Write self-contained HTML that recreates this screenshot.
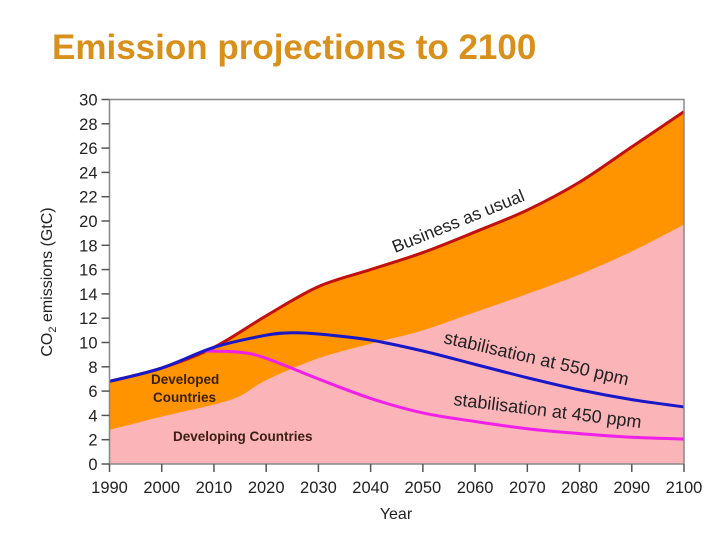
<!DOCTYPE html>
<html><head><meta charset="utf-8"><style>
body{margin:0;background:#fff;width:720px;height:540px;overflow:hidden;font-family:"Liberation Sans",sans-serif}
</style></head><body>
<svg id="c" width="720" height="540" font-family="Liberation Sans, sans-serif">
<text x="52" y="59" font-size="35" font-weight="bold" fill="#d8901c">Emission projections to 2100</text>
<g id="areas"></g><g id="lines"></g><g id="axes"></g>
<text transform="translate(52,282) rotate(-90)" text-anchor="middle" font-size="16" fill="#222">CO<tspan font-size="11" dy="4">2</tspan><tspan dy="-4"> emissions (GtC)</tspan></text>
<text x="396" y="519" text-anchor="middle" font-size="16" fill="#222">Year</text>
<text x="151" y="384" font-size="13.5" font-weight="bold" fill="#3a2010">Developed</text>
<text x="153" y="402" font-size="13.5" font-weight="bold" fill="#3a2010">Countries</text>
<text x="173" y="441" font-size="13.5" font-weight="bold" fill="#3a2010">Developing Countries</text>
<text transform="translate(395,253) rotate(-22)" font-size="17.5" fill="#222">Business as usual</text>
<text transform="translate(443,343) rotate(13)" font-size="18" fill="#222">stabilisation at 550 ppm</text>
<text transform="translate(453,405) rotate(7)" font-size="18" fill="#222">stabilisation at 450 ppm</text>
</svg>
<script>
const bauYears=[1990,2000,2010,2020,2030,2040,2050,2060,2070,2080,2090,2100];
const bauValues=[6.8,7.9,9.6,12.2,14.6,16.0,17.4,19.1,20.9,23.2,26.1,29.0];
const devYears=[1990,2000,2010,2015,2020,2030,2040,2050,2060,2070,2080,2090,2100];
const devValues=[2.8,3.9,4.9,5.6,6.9,8.7,9.9,11.0,12.5,14.0,15.6,17.5,19.7];
const s550Years=[1990,2000,2010,2020,2025,2030,2040,2050,2060,2070,2080,2090,2100];
const s550Values=[6.8,7.9,9.6,10.6,10.8,10.7,10.2,9.3,8.2,7.1,6.1,5.3,4.7];
const s450Years=[2008,2015,2020,2030,2040,2050,2060,2070,2080,2090,2100];
const s450Values=[9.3,9.2,8.7,7.0,5.4,4.2,3.5,2.9,2.5,2.2,2.05];
const yTicks=[0,2,4,6,8,10,12,14,16,18,20,22,24,26,28,30];
const xTicks=[1990,2000,2010,2020,2030,2040,2050,2060,2070,2080,2090,2100];
const X=v=>109.5+(v-1990)*(684-109.5)/110;
const Y=v=>464-v*(464-99.5)/30;
const NS='http://www.w3.org/2000/svg';
function mk(t,a,p){const e=document.createElementNS(NS,t);for(const k in a)e.setAttribute(k,a[k]);p.appendChild(e);return e;}
function curve(xs,ys){const p=xs.map((x,i)=>[X(x),Y(ys[i])]);let d='M'+p[0][0]+','+p[0][1];
for(let i=0;i<p.length-1;i++){const p0=p[i-1]||p[i],p1=p[i],p2=p[i+1],p3=p[i+2]||p2;
d+=' C'+(p1[0]+(p2[0]-p0[0])/6)+','+(p1[1]+(p2[1]-p0[1])/6)+' '+(p2[0]-(p3[0]-p1[0])/6)+','+(p2[1]-(p3[1]-p1[1])/6)+' '+p2[0]+','+p2[1];}return d;}
const A=document.getElementById('areas'),L=document.getElementById('lines'),G=document.getElementById('axes');
let e;
e=mk('path',{d:curve(bauYears,bauValues)+' L'+X(2100)+','+Y(0)+' L'+X(1990)+','+Y(0)+'Z',fill:'#ff9400'},A);

e=mk('path',{d:curve(devYears,devValues)+' L'+X(2100)+','+Y(0)+' L'+X(1990)+','+Y(0)+'Z',fill:'#fbb4b8'},A);

e=mk('path',{d:curve(bauYears,bauValues),fill:'none',stroke:'#c01010','stroke-width':3},L);

e=mk('path',{d:curve(s450Years,s450Values),fill:'none',stroke:'#f020e8','stroke-width':3},L);

e=mk('path',{d:curve(s550Years,s550Values),fill:'none',stroke:'#1818c8','stroke-width':3},L);

e=mk('rect',{x:X(1990),y:Y(30),width:X(2100)-X(1990),height:Y(0)-Y(30),fill:'none',stroke:'#888','stroke-width':1.5},G);

yTicks.forEach(v=>{mk('line',{x1:X(1990)-8,x2:X(1990),y1:Y(v),y2:Y(v),stroke:'#555','stroke-width':1.5},G);
e=mk('text',{x:X(1990)-12,y:Y(v)+6,'text-anchor':'end','font-size':16.5,fill:'#222'},G);e.textContent=v;
});
xTicks.forEach(v=>{mk('line',{x1:X(v),x2:X(v),y1:Y(0),y2:Y(0)+8,stroke:'#555','stroke-width':1.5},G);
e=mk('text',{x:X(v),y:Y(0)+29,'text-anchor':'middle','font-size':16.5,fill:'#222'},G);e.textContent=v;
});
</script>
</body></html>
